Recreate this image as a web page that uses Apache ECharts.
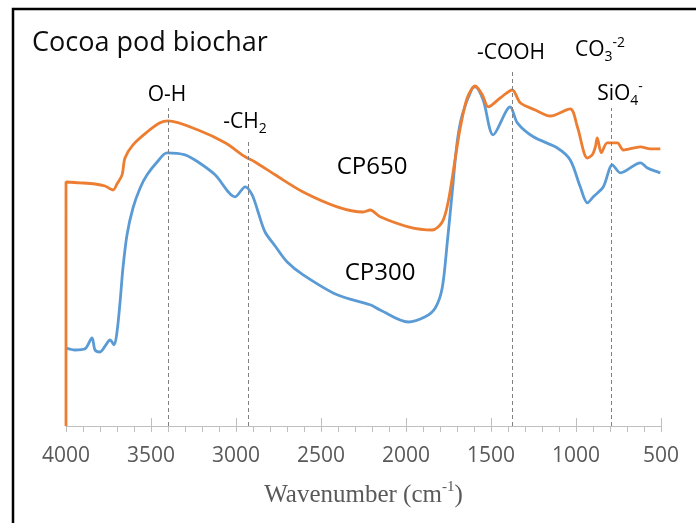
<!DOCTYPE html>
<html>
<head>
<meta charset="utf-8">
<script src="https://cdn.jsdelivr.net/npm/echarts@6/dist/echarts.min.js"></script>
<style>
html,body{margin:0;padding:0;background:#fff;}
#chart{width:696px;height:523px;}
</style>
</head>
<body>
<div id="chart"></div>
<script>
// Wavenumber ticks
const xTicks = [4000, 3500, 3000, 2500, 2000, 1500, 1000, 500];

// CP650 (orange)
const wnCP650 = [4000,4000,3918,3829,3770,3741,3723,3700,3670,3653,3606,3523,3447,3400,3223,3064,2946,2888,2770,2605,2405,2252,2211,2152,1987,1846,1787,1752,1710,1681,1640,1593,1551,1516,1446,1375,1328,1240,1151,1034,992,933,904,886,875,851,816,757,721,621,563,504];
const valCP650 = [0,61,60.8,60.5,60,59.3,59,60.5,62.8,67,70.3,73.5,75.8,76.3,74,70.8,67.3,66,62.8,58.5,54.8,53.5,54,52.3,49.8,49,51,56,67,74.5,82,85,82.8,79.8,82,84,80.8,79,77.5,79.3,74.8,67,67.8,69.8,72,68.3,70.8,70.8,69,69.8,69.3,69.3];

// CP300 (blue)
const wnCP300 = [4000,3947,3888,3847,3829,3800,3765,3741,3717,3700,3682,3665,3641,3606,3564,3523,3464,3406,3300,3223,3123,3005,2946,2905,2870,2829,2770,2699,2605,2405,2211,2152,1987,1887,1828,1787,1757,1728,1699,1669,1610,1593,1546,1487,1387,1345,1251,1110,1034,975,933,898,839,786,739,621,580,504];
const valCP300 = [19.5,19,19.3,22,19,18.5,20.3,21.5,20.3,23.5,31,39.5,47.8,54.5,59.5,62.8,66,68.3,67.8,66,62.8,57.3,59.8,57.8,53.5,48.5,45,41,37.8,32.8,30.3,29,26,27.3,29.5,34.5,46,58.5,71,77.8,84.5,84.8,81.5,72.8,79.8,75.8,72.3,69.5,66.5,59.8,55.8,57.3,59.8,65.3,63.3,65.8,64.5,63.3];

// Band reference lines (wavenumber, top of dashed line)
const bandWn = [3400, 2925, 1375, 885, 790];
const bandTop = [79.5, 71.5, 89, 89.5, 79.5];
const bandBottom = [0, 0, 0, -2, 0];

const pairs = (xs, ys) => xs.map((x, i) => [x, ys[i]]);

const chart = echarts.init(document.getElementById('chart'));

const labelFont = '"Open Sans", sans-serif';
const richLbl = {
  a: { fontFamily: labelFont, fontSize: 21, lineHeight: 28, color: '#262626' },
  sub: { fontFamily: labelFont, fontSize: 14, lineHeight: 16, verticalAlign: 'bottom', color: '#262626' },
  sup: { fontFamily: labelFont, fontSize: 14, lineHeight: 14, verticalAlign: 'top', color: '#262626' }
};
function lbl(text, x, y, size) {
  const rich = JSON.parse(JSON.stringify(richLbl));
  if (size) rich.a.fontSize = size;
  return {
    type: 'text', x: x, y: y, z: 100,
    style: { text: text, rich: rich, align: 'center', verticalAlign: 'middle' }
  };
}

chart.setOption({
  animation: false,
  grid: { left: 66, right: 35, top: 26, bottom: 97 },
  xAxis: [{
    type: 'value', min: 500, max: 4000, interval: 500, inverse: true,
    axisLine: { lineStyle: { color: '#bfbfbf', width: 1 } },
    axisTick: { show: true, length: 6, lineStyle: { color: '#bfbfbf' } },
    minorTick: { show: true, splitNumber: 5, length: 6, lineStyle: { color: '#bfbfbf' } },
    splitLine: { show: false },
    axisLabel: { fontFamily: labelFont, fontSize: 21, color: '#595959', margin: 20,
      formatter: v => (xTicks.indexOf(v) >= 0 ? String(v) : '') },
    name: '{a|Wavenumber (cm}{s|-1}{a|)}',
    nameLocation: 'middle', nameGap: 54,
    nameTextStyle: {
      rich: {
        a: { fontFamily: '"Liberation Serif", "DejaVu Serif", serif', fontSize: 25, lineHeight: 30, color: '#595959' },
        s: { fontFamily: '"Liberation Serif", "DejaVu Serif", serif', fontSize: 15, lineHeight: 16, verticalAlign: 'top', color: '#595959' }
      }
    }
  }, {
    type: 'value', min: 500, max: 4000, interval: 500, inverse: true, position: 'bottom',
    axisLine: { show: false },
    axisTick: { show: true, inside: true, length: 8, lineStyle: { color: '#bfbfbf' } },
    axisLabel: { show: false },
    splitLine: { show: false }
  }],
  yAxis: { type: 'value', min: 0, max: 100, show: false },
  series: [
    {
      name: 'CP300', type: 'line', data: pairs(wnCP300, valCP300),
      showSymbol: false, symbol: 'none', smooth: 0.3,
      lineStyle: { color: '#5B9BD5', width: 2.8 }, z: 3
    },
    {
      name: 'CP650', type: 'line', data: pairs(wnCP650, valCP650),
      showSymbol: false, symbol: 'none', smooth: 0.3,
      lineStyle: { color: '#ED7D31', width: 2.8 }, z: 4
    },
    {
      name: 'bands', type: 'line', data: [], clip: false, z: 2,
      markLine: {
        silent: true, symbol: 'none', label: { show: false },
        lineStyle: { color: '#808080', type: [4, 3], width: 1 },
        data: bandWn.map((w, i) => [{ coord: [w, bandBottom[i]] }, { coord: [w, bandTop[i]] }])
      }
    }
  ],
  graphic: [
    { type: 'rect', shape: { x: 13, y: 9, width: 700, height: 530 }, style: { fill: 'none', stroke: '#000', lineWidth: 2.5 } },
    { type: 'text', x: 32, y: 43, style: { text: 'Cocoa pod biochar', fontFamily: labelFont, fontSize: 27, fill: '#0d0d0d', verticalAlign: 'middle' } },
    lbl('{a|O-H}', 167, 95),
    lbl('{a|-CH}{sub|2}', 245, 122),
    lbl('{a|CP650}', 372, 167, 24),
    lbl('{a|CP300}', 380, 273, 24),
    lbl('{a|-COOH}', 511, 53),
    lbl('{a|CO}{sub|3}{sup|-2}', 600, 50),
    lbl('{a|SiO}{sub|4}{sup|-}', 620, 94)
  ]
});
</script>
</body>
</html>
